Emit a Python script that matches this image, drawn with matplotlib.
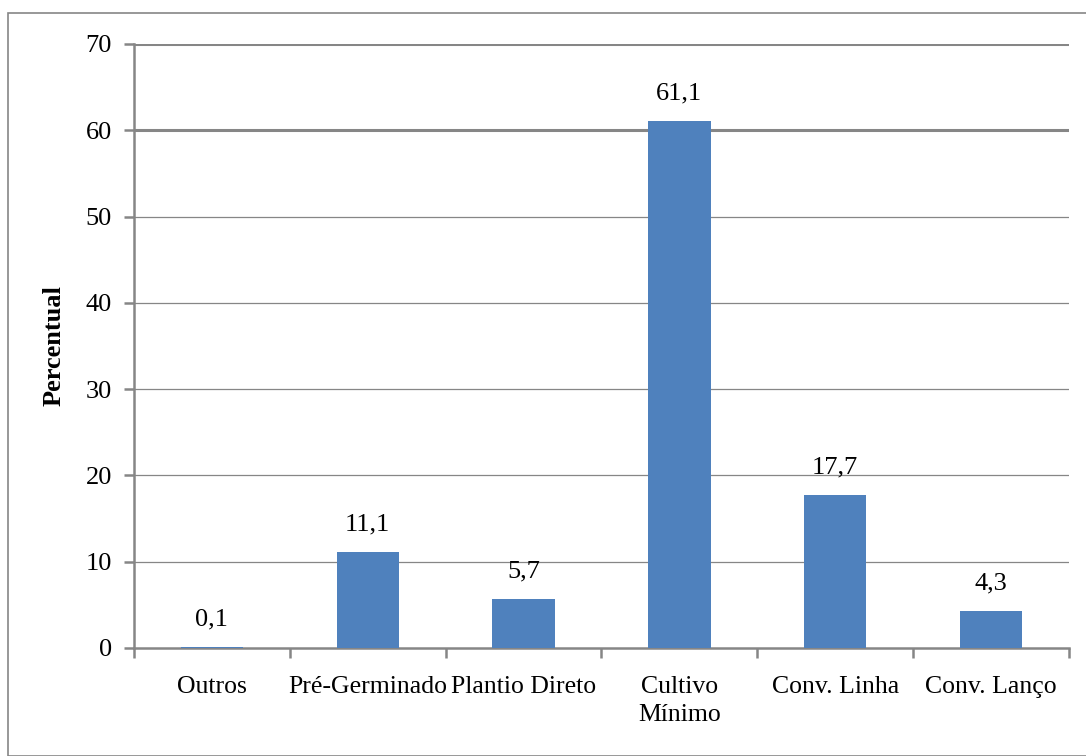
import matplotlib
matplotlib.use("Agg")
import matplotlib.pyplot as plt
from matplotlib.patches import Rectangle
import numpy as np

categories = ["Outros", "Pré-Germinado", "Plantio Direto", "Cultivo\nMínimo", "Conv. Linha", "Conv. Lanço"]
values = [0.1, 11.1, 5.7, 61.1, 17.7, 4.3]
value_labels = ["0,1", "11,1", "5,7", "61,1", "17,7", "4,3"]
yticks = [0, 10, 20, 30, 40, 50, 60, 70]

plt.rcParams['font.family'] = ['Liberation Serif', 'DejaVu Serif']

fig = plt.figure(figsize=(10.86, 7.56), dpi=100)
fig.patches.append(Rectangle((8/1086, 0), 1.2, 1 - 13/756, transform=fig.transFigure,
                             fill=False, edgecolor='#868686', linewidth=1.2, zorder=0))
ax = fig.add_axes([134/1086, 1 - 648/756, (1069-134)/1086, (648-44)/756])

grey = '#868686'
x = np.arange(len(categories))
ax.bar(x, values, width=0.4, color='#4F81BD', zorder=3)

ax.set_xlim(-0.5, len(categories) - 0.5)
ax.set_ylim(0, 70)
ax.set_yticks(yticks)
ax.set_yticklabels([str(t) for t in yticks])

for yv in yticks[1:]:
    lw = 2.2 if yv >= 60 else 0.9
    ax.axhline(yv, color=grey, linewidth=lw, zorder=1)

for s in ['top', 'right']:
    ax.spines[s].set_visible(False)
for s in ['left', 'bottom']:
    ax.spines[s].set_color(grey)
    ax.spines[s].set_linewidth(1.8)

ax.set_xticks(x)
ax.set_xticklabels(categories, fontsize=18.5, linespacing=1.35)
ax.set_xticks(np.arange(len(categories) + 1) - 0.5, minor=True)
ax.tick_params(axis='x', which='major', length=0, pad=20)
ax.tick_params(axis='x', which='minor', length=7, width=1.8, color=grey)
ax.tick_params(axis='y', which='major', length=7, width=1.8, color=grey, pad=9, labelsize=19)

for xi, v, lab in zip(x, values, value_labels):
    ax.annotate(lab, (xi, v), xytext=(0, 12), textcoords='offset points',
                ha='center', va='bottom', fontsize=19)

ax.set_ylabel("Percentual", fontsize=19, fontweight='bold', labelpad=14)

fig.savefig("out.png", dpi=100)
